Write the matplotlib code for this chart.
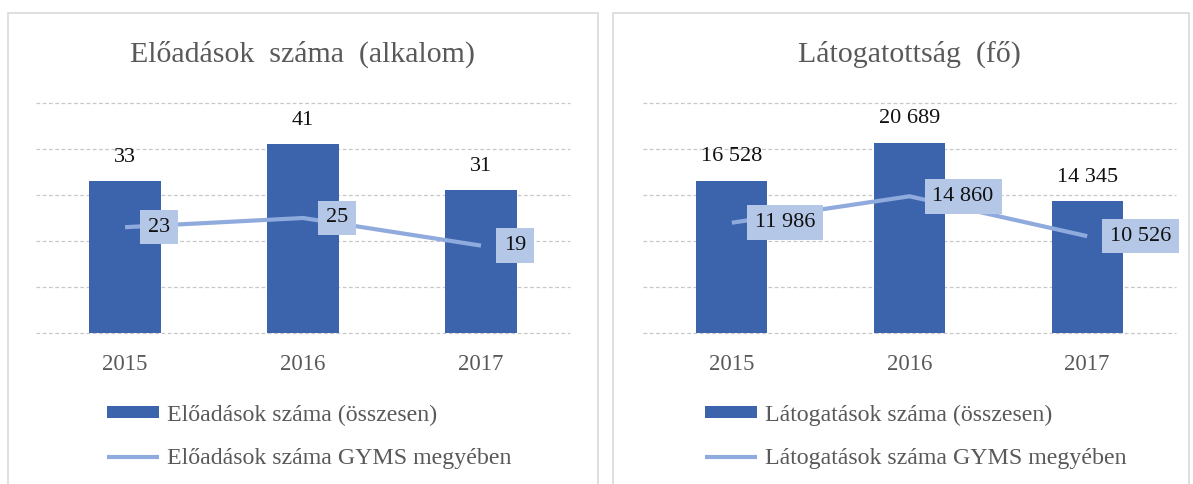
import numpy as np
import matplotlib
matplotlib.use('Agg')
from matplotlib import pyplot as plt
from matplotlib.patches import Rectangle

# data
years = ['2015', '2016', '2017']

eloadas_total = [33, 41, 31]
eloadas_gyms = [23, 25, 19]

latogatas_total = [16528, 20689, 14345]
latogatas_gyms = [11986, 14860, 10526]

bar_color = '#3b64ad'
line_color = '#8faadc'
box_color = '#b4c7e7'
text_gray = '#595959'

plt.rcParams['font.family'] = ['Liberation Serif', 'DejaVu Serif']

W, H = 1193, 484
fig = plt.figure(figsize=(W / 100, H / 100), dpi=100)


def fmt(v):
    # hungarian style thousands separator
    return '{:,}'.format(v).replace(',', ' ')


def draw_panel(rect, title, total, gyms, ymax, ystep, lab_total, lab_gyms):
    """one Excel-like combo chart: bars + line with boxed labels"""
    ax = fig.add_axes(rect)
    x = np.arange(len(years))
    bars = ax.bar(x, total, width=0.4, color=bar_color, zorder=2, label=lab_total)
    line, = ax.plot(x, gyms, color=line_color, lw=3, zorder=3, label=lab_gyms,
                    solid_capstyle='butt')

    for xi, v in zip(x, total):
        ax.annotate(fmt(v), (xi, v), xytext=(0, 24), textcoords='offset pixels',
                    ha='center', va='center', fontsize=16, color='#111111')
    for xi, v in zip(x, gyms):
        ax.annotate(fmt(v), (xi, v), xytext=(23, 0),
                    textcoords='offset pixels', ha='left', va='center',
                    fontsize=16, color='#111111', zorder=4,
                    bbox=dict(boxstyle='square,pad=0.35', fc=box_color, ec='none'))

    ax.set_xlim(-0.5, len(years) - 0.5)
    ax.set_ylim(0, ymax)
    ax.set_yticks(np.arange(0, ymax + ystep, ystep))
    ax.set_yticklabels([])
    ax.set_xticks(x)
    ax.set_xticklabels(years, fontsize=16.5, color=text_gray)
    ax.tick_params(length=0, pad=15)
    ax.yaxis.grid(True, color='#c8c8c8', lw=0.9, linestyle=(0, (3, 2)), zorder=0)
    for gl in ax.get_ygridlines():
        gl.set_clip_on(False)
    ax.set_axisbelow(True)
    for s in ax.spines.values():
        s.set_visible(False)
    ax.set_title(title, fontsize=21.5, color=text_gray, pad=30)

    cx = rect[0] + rect[2] / 2 + 6 / W
    ax.legend([bars, line], [lab_total, lab_gyms],
              loc='center', bbox_to_anchor=(cx, 1 - 437 / H),
              bbox_transform=fig.transFigure, frameon=False, fontsize=17.2,
              labelcolor=text_gray, handlelength=2.2, handleheight=0.42,
              handletextpad=0.3, labelspacing=0.95)
    return ax


draw_panel([36 / W, 151 / H, 534 / W, 230 / H], 'Előadások  száma  (alkalom)',
           eloadas_total, eloadas_gyms, 50, 10,
           'Előadások száma (összesen)', 'Előadások száma GYMS megyében')
draw_panel([643 / W, 151 / H, 533 / W, 230 / H], 'Látogatottság  (fő)',
           latogatas_total, latogatas_gyms, 25000, 5000,
           'Látogatások száma (összesen)', 'Látogatások száma GYMS megyében')

# light panel frames
for x0, x1 in [(8, 598), (613, 1189)]:
    fig.patches.append(Rectangle((x0 / W, -0.01), (x1 - x0) / W, 1.01 - 13 / H,
                                 transform=fig.transFigure, fill=False,
                                 ec='#d9d9d9', lw=1.2))

fig.savefig('out.png', dpi=100)
